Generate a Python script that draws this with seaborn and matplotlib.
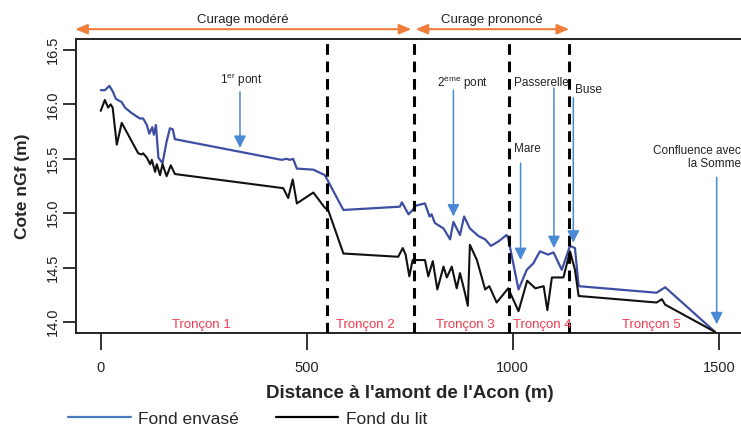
import matplotlib
matplotlib.use("Agg")
import matplotlib.pyplot as plt
import seaborn as sns
import pandas as pd
from matplotlib.lines import Line2D

# ---------------- data ----------------
dist_envase = [0, 10, 21, 29, 37, 51, 59, 75, 95, 103, 112, 118, 125, 129, 134, 140, 150, 160,
               168, 175, 180, 439, 451, 459, 467, 476, 516, 544, 589, 726, 731, 747, 757, 765,
               787, 798, 803, 811, 832, 848, 856, 872, 882, 896, 917, 933, 947, 965, 985, 989,
               1014, 1034, 1050, 1066, 1086, 1099, 1119, 1139, 1151, 1160, 1349, 1370, 1491]
cote_envase = [16.13, 16.13, 16.17, 16.12, 16.05, 16.02, 15.97, 15.92, 15.87, 15.87, 15.81, 15.73,
               15.79, 15.72, 15.81, 15.51, 15.46, 15.66, 15.78, 15.77, 15.68, 15.49, 15.50, 15.49,
               15.50, 15.41, 15.40, 15.35, 15.03, 15.06, 15.10, 14.99, 15.03, 15.07, 15.09, 14.97,
               14.99, 14.91, 14.86, 14.76, 14.92, 14.80, 14.97, 14.86, 14.79, 14.76, 14.70, 14.74,
               14.80, 14.77, 14.30, 14.48, 14.54, 14.65, 14.62, 14.64, 14.48, 14.70, 14.68, 14.33,
               14.27, 14.32, 13.91]

dist_lit = [0, 10, 18, 24, 29, 39, 51, 91, 99, 103, 112, 120, 124, 132, 136, 144, 150, 160, 170,
            180, 443, 455, 466, 476, 516, 544, 552, 589, 722, 733, 740, 749, 757, 787, 795, 806,
            817, 832, 840, 852, 864, 872, 882, 891, 896, 913, 933, 943, 961, 989, 1014, 1035,
            1055, 1075, 1084, 1095, 1123, 1139, 1151, 1160, 1349, 1362, 1370, 1491]
cote_lit = [15.94, 16.04, 15.97, 16.00, 15.97, 15.63, 15.83, 15.55, 15.54, 15.55, 15.51, 15.45,
            15.49, 15.38, 15.45, 15.35, 15.45, 15.34, 15.44, 15.36, 15.23, 15.14, 15.31, 15.09,
            15.19, 15.05, 15.03, 14.63, 14.60, 14.68, 14.62, 14.42, 14.57, 14.57, 14.42, 14.56,
            14.30, 14.51, 14.41, 14.51, 14.31, 14.45, 14.30, 14.15, 14.71, 14.57, 14.30, 14.33,
            14.18, 14.31, 14.10, 14.38, 14.31, 14.33, 14.11, 14.41, 14.41, 14.65, 14.48, 14.24,
            14.18, 14.21, 14.16, 13.91]

limites_troncons = [550, 760, 990, 1137]
troncon_labels = ["Tronçon 1", "Tronçon 2", "Tronçon 3", "Tronçon 4", "Tronçon 5"]
troncon_x = [245, 641, 884, 1071, 1337]

repere_labels = ["1$^{\\mathrm{er}}$ pont", "2$^{\\mathrm{ème}}$ pont", "Passerelle", "Buse",
                 "Mare", "Confluence avec\nla Somme"]
repere_x = [338, 856, 1100, 1147, 1019, 1495]
repere_top = [16.115, 16.13, 16.15, 16.06, 15.46, 15.33]
repere_tip = [15.60, 14.97, 14.68, 14.73, 14.57, 13.98]

x_ticks = [0, 500, 1000, 1500]
y_ticks = [14.0, 14.5, 15.0, 15.5, 16.0, 16.5]

# ---------------- style ----------------
sns.set_style("ticks")
plt.rcParams["font.family"] = ["Liberation Sans", "DejaVu Sans"]
plt.rcParams["mathtext.fontset"] = "custom"
plt.rcParams["mathtext.rm"] = "Liberation Sans"
plt.rcParams["mathtext.it"] = "Liberation Sans"
AXFONT = ["Liberation Sans", "DejaVu Sans"]

BLUE = "#3d4ea3"
ARROW_BLUE = "#4a8ad4"
ORANGE = "#f07e3a"
RED = "#f03a4c"

fig = plt.figure(figsize=(7.41, 4.26), dpi=100)
ax = fig.add_axes([76 / 741, 1 - 333 / 426, 1 - 76 / 741, (333 - 39) / 426])

df_env = pd.DataFrame({"Distance": dist_envase, "Cote": cote_envase})
df_lit = pd.DataFrame({"Distance": dist_lit, "Cote": cote_lit})
sns.lineplot(data=df_env, x="Distance", y="Cote", sort=False, color=BLUE, lw=1.6, ax=ax)
sns.lineplot(data=df_lit, x="Distance", y="Cote", sort=False, color="#111111", lw=1.5, ax=ax)

ax.set_xlim(-60, 1554)
ax.set_ylim(13.90, 16.60)

for xv in limites_troncons:
    ax.axvline(xv, color="black", lw=2.2, ls=(0, (3.5, 2.2)), zorder=3)

for lab, xv in zip(troncon_labels, troncon_x):
    ax.text(xv, 13.975, lab, color=RED, fontsize=9.5, ha="center", va="center")

# markers (arrows)
for lab, xv, yt, yp in zip(repere_labels, repere_x, repere_top, repere_tip):
    ax.annotate("", xy=(xv, yp), xytext=(xv, yt),
                arrowprops=dict(arrowstyle="-|>,head_length=0.6,head_width=0.3",
                                color=ARROW_BLUE, lw=1.1, mutation_scale=12,
                                shrinkA=0, shrinkB=0), zorder=4)

ax.text(341, 16.22, repere_labels[0], fontsize=8.5, ha="center", va="center", color="#222222")
ax.text(877, 16.20, repere_labels[1], fontsize=8.5, ha="center", va="center", color="#222222")
ax.text(1003, 16.20, repere_labels[2], fontsize=8.5, ha="left", va="center", color="#222222")
ax.text(1150, 16.13, repere_labels[3], fontsize=8.5, ha="left", va="center", color="#222222")
ax.text(1003, 15.59, repere_labels[4], fontsize=8.5, ha="left", va="center", color="#222222")
ax.text(1554, 15.51, repere_labels[5], fontsize=8.5, ha="right", va="center",
        color="#222222", linespacing=1.15, clip_on=False)

# curage arrows above the plot
ax.annotate("", xy=(-62, 16.69), xytext=(754, 16.69), annotation_clip=False,
            arrowprops=dict(arrowstyle="<|-|>,head_length=0.6,head_width=0.25", color=ORANGE,
                            lw=1.5, mutation_scale=12, shrinkA=0, shrinkB=0))
ax.annotate("", xy=(764, 16.69), xytext=(1137, 16.69), annotation_clip=False,
            arrowprops=dict(arrowstyle="<|-|>,head_length=0.6,head_width=0.25", color=ORANGE,
                            lw=1.5, mutation_scale=12, shrinkA=0, shrinkB=0))
ax.text(345, 16.775, "Curage modéré", fontsize=9.5, ha="center", va="center", clip_on=False)
ax.text(950, 16.775, "Curage prononcé", fontsize=9.5, ha="center", va="center", clip_on=False)

# axes
ax.set_xticks(x_ticks)
ax.set_yticks(y_ticks)
ax.set_xticklabels([str(t) for t in x_ticks], family=AXFONT, fontsize=10.5)
ax.set_yticklabels([f"{t:.1f}" for t in y_ticks], family=AXFONT, fontsize=10.5,
                   rotation=90, va="center")
ax.tick_params(axis="x", length=12, width=1.3, pad=8, colors="#222222")
ax.tick_params(axis="y", length=9.5, width=1.3, pad=2, colors="#222222")
for s in ["left", "bottom", "top"]:
    ax.spines[s].set_linewidth(1.4)
    ax.spines[s].set_color("#222222")
ax.spines["right"].set_visible(False)

ax.set_xlabel("Distance à l'amont de l'Acon (m)", family=AXFONT, fontsize=13.5,
              fontweight="bold")
ax.set_ylabel("Cote nGf (m)", family=AXFONT, fontsize=12.5, fontweight="bold")
ax.xaxis.set_label_coords((410 - 76) / (741 - 76), -(385 - 333) / (333 - 39))
ax.yaxis.set_label_coords(-(76 - 30) / (741 - 76), (333 - 186) / (333 - 39))

handles = [Line2D([], [], color="#4a7cc0", lw=1.6), Line2D([], [], color="black", lw=1.6)]
leg = fig.legend(handles, ["Fond envasé", "Fond du lit"], loc="center left",
                 bbox_to_anchor=(68 / 741, 1 - 419 / 426), ncol=2, frameon=False,
                 handlelength=3.6, handletextpad=0.45, columnspacing=2.1,
                 borderpad=0, borderaxespad=0, prop={"family": AXFONT, "size": 12.5})

fig.savefig("out.png", dpi=100)
